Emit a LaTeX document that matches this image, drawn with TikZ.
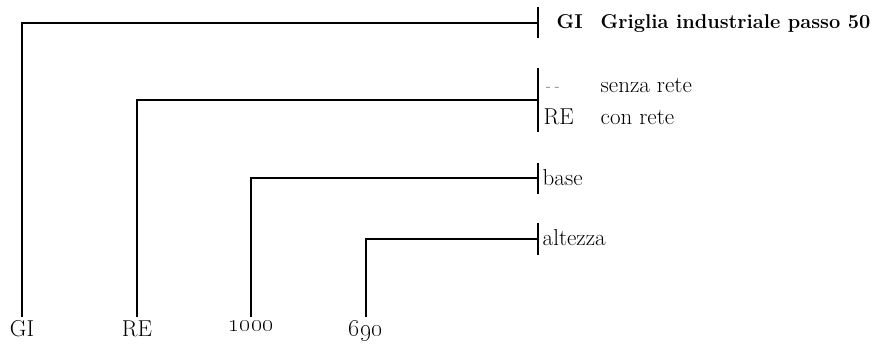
\documentclass[tikz,border=0pt]{standalone}
\usepackage{tikz}
\usetikzlibrary{positioning}
\tikzset{
  lbl/.style={inner sep=0pt,font=\fontsize{23}{27}\selectfont},
  boldlbl/.style={inner sep=0pt,font=\fontsize{20}{24}\selectfont\bfseries},
  codelbl/.style={lbl,anchor=north,inner sep=3pt},
  bar/.style={line width=1.4pt}
}
\begin{document}
\begin{tikzpicture}[x=1pt,y=-1pt,line width=1.4pt]
\useasboundingbox (0,0) rectangle (891,346);
%%Codes
\node[codelbl] (gi)  at (22,317)  {GI};
\node[codelbl] (re)  at (137,317) {RE};
\node[codelbl] (bs)  at (251,317) {\oldstylenums{1000}};
\node[codelbl] (alt) at (366,317) {\oldstylenums{690}};

%%Bars
\coordinate (gibar) at (538,23);
\coordinate (rebar) at (538,100);
\coordinate (bsbar) at (538,178);
\coordinate (altbar) at (538,239);
\draw[bar] (538,7) -- (538,38);
\draw[bar] (538,68) -- (538,132);
\draw[bar] (538,163) -- (538,194);
\draw[bar] (538,223) -- (538,255);

%%Dendrogram
\draw (gi.north) |- (gibar);
\draw (re.north) |- (rebar);
\draw (bs.north) |- (bsbar);
\draw (alt.north) |- (altbar);

%%Label
\node[boldlbl,anchor=base west] (gicode) at (556,28) {GI};
\node[boldlbl,anchor=base west] (gitext) at (600,28) {Griglia industriale passo 50};
\node[lbl,anchor=base west,gray,font=\fontsize{17}{20}\selectfont\itshape] (nocode) at (544,91) {-\,-};
\node[lbl,anchor=base west] (notext) at (600,92) {senza rete};
\node[lbl,anchor=base west] (recode) at (543,124) {RE};
\node[lbl,anchor=base west] (retext) at (600,124) {con rete};
\node[lbl,anchor=base west] (bstext) at (542,185) {base};
\node[lbl,anchor=base west] (alttext) at (542,245) {altezza};
\end{tikzpicture}
\end{document}
